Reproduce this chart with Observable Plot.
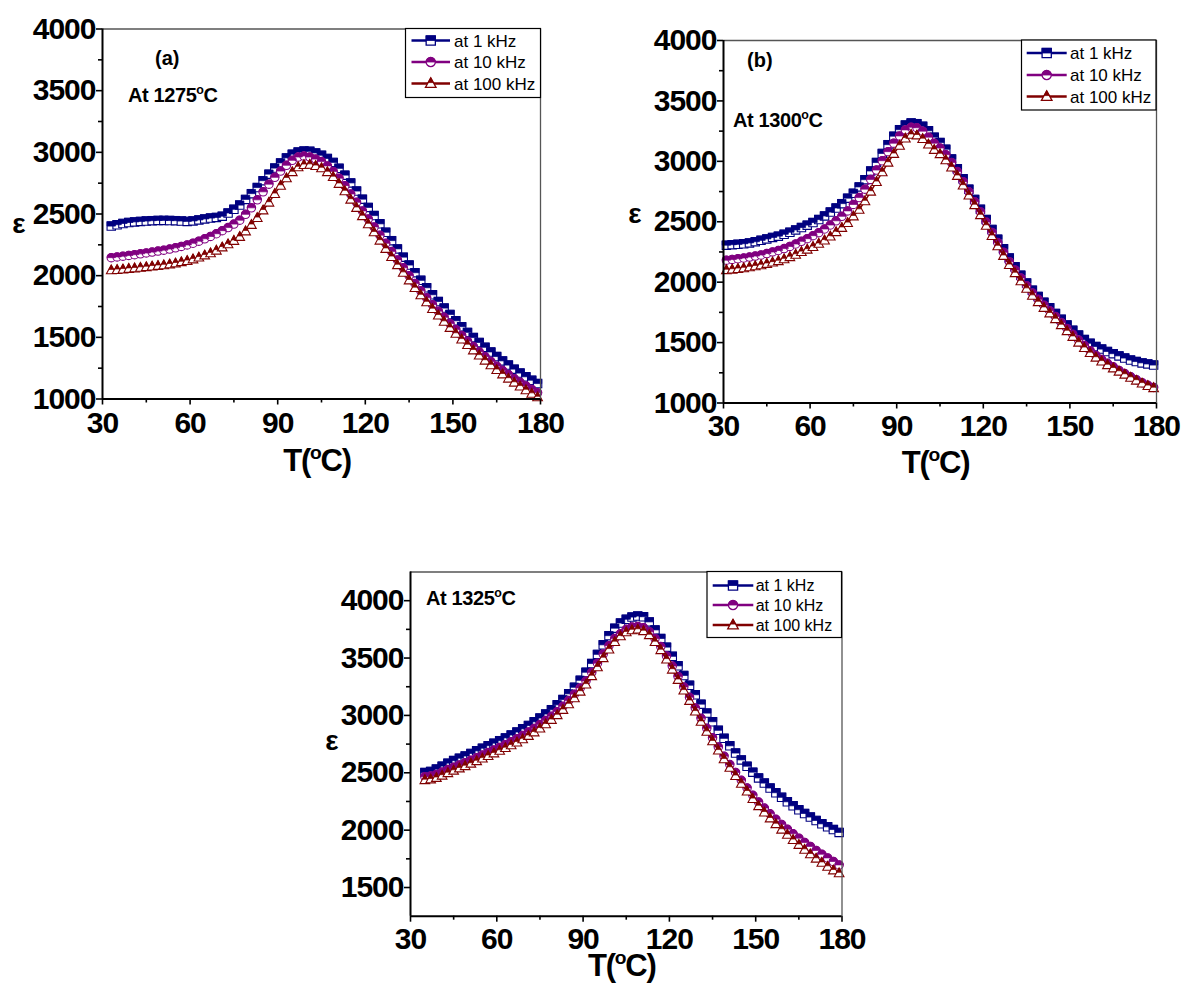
<!DOCTYPE html>
<html>
<head>
<meta charset="utf-8">
<script src="https://cdn.jsdelivr.net/npm/d3@7"></script>
<script src="https://cdn.jsdelivr.net/npm/@observablehq/plot@0.6"></script>
<style>
  body { margin: 0; background: #fff; }
  #fig { position: relative; width: 1182px; height: 990px; background: #fff; }
  #fig svg { position: absolute; overflow: visible; }
</style>
</head>
<body>
<div id="fig"></div>
<script>
// Dielectric constant vs temperature, three sintering temperatures, three frequencies.

const frequencyLabels = ["at 1 kHz", "at 10 kHz", "at 100 kHz"];
const seriesColors = ["#000080", "#800080", "#800000"];
const seriesShapes = ["square", "circle", "triangle"];

const xMajorTicks = [30, 60, 90, 120, 150, 180];
const xMinorTicks = [45, 75, 105, 135, 165];

// (a) sintered at 1275 °C
const tempsA = [33,35,37,39,41,43,45,47,49,51,53,55,57,59,61,63,65,67,69,71,73,75,77,79,81,83,85,87,89,91,93,95,97,99,101,103,105,107,109,111,113,115,117,119,121,123,125,127,129,131,133,135,137,139,141,143,145,147,149,151,153,155,157,159,161,163,165,167,169,171,173,175,177,179];
const eps1kA = [2402,2413,2423,2431,2436,2440,2443,2446,2448,2448,2447,2446,2443,2440,2444,2452,2460,2467,2472,2482,2508,2538,2572,2618,2665,2714,2770,2823,2872,2914,2955,2985,3002,3010,3008,2995,2976,2950,2918,2870,2815,2752,2686,2620,2553,2487,2420,2352,2284,2217,2150,2086,2024,1962,1902,1845,1790,1737,1685,1634,1586,1540,1498,1458,1419,1381,1344,1309,1275,1242,1210,1180,1152,1125];
const eps10kA = [2146,2152,2158,2164,2170,2177,2184,2191,2199,2207,2216,2226,2237,2249,2263,2280,2299,2318,2340,2365,2390,2418,2450,2497,2550,2615,2680,2742,2797,2848,2895,2935,2962,2970,2962,2945,2925,2890,2845,2790,2730,2662,2595,2525,2460,2395,2328,2262,2195,2128,2064,2000,1937,1877,1820,1765,1712,1662,1612,1563,1515,1469,1425,1383,1343,1304,1266,1231,1198,1165,1135,1106,1078,1050];
const eps100kA = [2044,2047,2051,2056,2060,2065,2070,2075,2080,2085,2092,2100,2110,2120,2133,2148,2165,2182,2204,2230,2255,2283,2315,2360,2412,2468,2530,2593,2663,2730,2790,2840,2880,2898,2900,2890,2872,2840,2800,2745,2685,2617,2550,2483,2418,2352,2285,2218,2152,2086,2024,1962,1900,1842,1785,1730,1678,1627,1577,1530,1483,1438,1395,1353,1312,1274,1236,1200,1166,1133,1102,1072,1043,1015];
const yMajorA = [1000, 1500, 2000, 2500, 3000, 3500, 4000];
const yMinorA = [1250, 1750, 2250, 2750, 3250, 3750];

// (b) sintered at 1300 °C
const tempsB = [31,33,35,37,39,41,43,45,47,49,51,53,55,57,59,61,63,65,67,69,71,73,75,77,79,81,83,85,87,89,91,93,95,97,99,101,103,105,107,109,111,113,115,117,119,121,123,125,127,129,131,133,135,137,139,141,143,145,147,149,151,153,155,157,159,161,163,165,167,169,171,173,175,177,179];
const eps1kB = [2306,2310,2313,2318,2325,2335,2346,2358,2370,2381,2396,2413,2432,2452,2472,2493,2518,2548,2580,2614,2650,2695,2735,2788,2848,2920,2990,3065,3138,3208,3262,3300,3318,3312,3290,3253,3200,3155,3100,3020,2939,2855,2770,2685,2603,2518,2436,2356,2277,2200,2127,2058,1993,1934,1882,1834,1788,1741,1693,1646,1602,1562,1525,1494,1467,1446,1426,1408,1390,1372,1355,1343,1332,1323,1314];
const eps10kB = [2182,2188,2194,2200,2208,2216,2225,2237,2250,2262,2278,2296,2316,2338,2360,2385,2410,2440,2473,2508,2545,2590,2643,2700,2770,2850,2928,3005,3080,3150,3210,3260,3282,3278,3250,3200,3150,3110,3055,2990,2915,2832,2748,2665,2582,2497,2412,2328,2247,2170,2101,2034,1970,1911,1858,1810,1764,1716,1666,1616,1568,1521,1476,1433,1394,1360,1328,1299,1270,1244,1218,1193,1168,1146,1129];
const eps100kB = [2100,2104,2110,2116,2124,2132,2141,2152,2163,2175,2190,2208,2228,2250,2270,2292,2318,2346,2378,2415,2450,2490,2545,2600,2670,2750,2830,2910,2990,3062,3130,3190,3220,3215,3185,3140,3095,3060,3010,2950,2880,2800,2718,2638,2555,2468,2383,2298,2218,2143,2075,2008,1946,1888,1835,1788,1742,1695,1645,1595,1548,1500,1456,1414,1376,1344,1314,1287,1260,1235,1210,1186,1162,1141,1124];
const yMajorB = [1000, 1500, 2000, 2500, 3000, 3500, 4000];
const yMinorB = [1250, 1750, 2250, 2750, 3250, 3750];

// (c) sintered at 1325 °C
const tempsC = [35,37,39,41,43,45,47,49,51,53,55,57,59,61,63,65,67,69,71,73,75,77,79,81,83,85,87,89,91,93,95,97,99,101,103,105,107,109,111,113,115,117,119,121,123,125,127,129,131,133,135,137,139,141,143,145,147,149,151,153,155,157,159,161,163,165,167,169,171,173,175,177,179];
const eps1kC = [2502,2512,2532,2558,2584,2606,2627,2646,2668,2691,2714,2736,2758,2780,2804,2829,2855,2883,2912,2944,2977,3012,3050,3092,3138,3188,3245,3306,3376,3452,3532,3615,3695,3760,3805,3838,3857,3866,3860,3815,3745,3670,3595,3515,3432,3348,3263,3180,3098,3020,2945,2870,2800,2735,2672,2612,2557,2505,2455,2410,2367,2326,2286,2247,2212,2178,2145,2114,2084,2055,2029,2005,1980];
const eps10kC = [2466,2472,2486,2506,2528,2548,2568,2588,2609,2631,2654,2676,2698,2721,2745,2770,2797,2825,2855,2887,2920,2955,2992,3033,3079,3130,3185,3240,3300,3375,3455,3535,3608,3670,3712,3750,3770,3776,3765,3730,3670,3600,3518,3430,3340,3248,3158,3065,2975,2888,2805,2725,2645,2572,2503,2435,2368,2304,2245,2192,2142,2095,2050,2008,1968,1930,1893,1858,1823,1790,1758,1727,1697];
const eps100kC = [2437,2443,2456,2476,2498,2519,2539,2559,2580,2602,2625,2647,2670,2693,2716,2740,2765,2793,2822,2853,2887,2923,2962,3003,3049,3098,3150,3208,3270,3343,3420,3500,3575,3640,3690,3725,3743,3748,3735,3700,3640,3570,3488,3400,3310,3218,3127,3035,2945,2858,2775,2695,2618,2545,2473,2405,2338,2272,2210,2155,2103,2053,2005,1960,1915,1872,1830,1790,1752,1716,1682,1650,1625];
const yMajorC = [1500, 2000, 2500, 3000, 3500, 4000];
const yMinorC = [1750, 2250, 2750, 3250, 3750];

const FONT = '"Liberation Sans", Arial, Helvetica, sans-serif';
const MARKER_R = 4.2;

// Half-filled marker shapes: the whole outline and the upper half.
const shapeDrawers = {
  square: {
    whole(ctx, r) { ctx.rect(-r, -r, 2 * r, 2 * r); },
    upper(ctx, r) { ctx.rect(-r, -r, 2 * r, r); }
  },
  circle: {
    whole(ctx, r) { ctx.moveTo(r, 0); ctx.arc(0, 0, r, 0, 2 * Math.PI); },
    upper(ctx, r) { ctx.moveTo(r, 0); ctx.arc(0, 0, r, 0, Math.PI, true); ctx.closePath(); }
  },
  triangle: {
    whole(ctx, r) {
      ctx.moveTo(0, -1.25 * r); ctx.lineTo(1.15 * r, 0.85 * r); ctx.lineTo(-1.15 * r, 0.85 * r); ctx.closePath();
    },
    upper(ctx, r) {
      const m = -0.2 * r;
      ctx.moveTo(0, -1.25 * r); ctx.lineTo(0.575 * r, m); ctx.lineTo(-0.575 * r, m); ctx.closePath();
    }
  }
};
function markerSymbol(shape, part) {
  return { draw(ctx, size) { shapeDrawers[shape][part](ctx, Math.sqrt(size / Math.PI)); } };
}

function degreeLabel(svg, x, y, before, after, size, anchor, spacing) {
  const t = svg.append("text")
    .attr("x", x).attr("y", y)
    .attr("text-anchor", anchor)
    .attr("font-family", FONT)
    .attr("font-size", size)
    .attr("font-weight", "bold")
    .attr("letter-spacing", spacing)
    .attr("fill", "black");
  t.append("tspan").text(before);
  t.append("tspan").attr("font-size", size * 0.62).attr("dy", -size * 0.4).text("o");
  t.append("tspan").attr("dy", size * 0.4).text(after);
}

function drawLegend(svg, lg) {
  const g = svg.append("g").attr("letter-spacing", "0px");
  g.append("rect")
    .attr("x", lg.x).attr("y", lg.y).attr("width", lg.w).attr("height", lg.h)
    .attr("fill", "white").attr("stroke", "black").attr("stroke-width", 1.2);
  frequencyLabels.forEach((label, i) => {
    const ry = lg.y + lg.rows[i];
    const cx = (lg.x0 + lg.x1) / 2;
    g.append("line")
      .attr("x1", lg.x0).attr("x2", lg.x1).attr("y1", ry).attr("y2", ry)
      .attr("stroke", seriesColors[i]).attr("stroke-width", 2.4);
    const size = Math.PI * 4.6 * 4.6;
    g.append("path")
      .attr("transform", `translate(${cx},${ry})`)
      .attr("d", d3.symbol(markerSymbol(seriesShapes[i], "whole"), size)())
      .attr("fill", "white").attr("stroke", seriesColors[i]).attr("stroke-width", 1.3);
    g.append("path")
      .attr("transform", `translate(${cx},${ry})`)
      .attr("d", d3.symbol(markerSymbol(seriesShapes[i], "upper"), size)())
      .attr("fill", seriesColors[i]).attr("stroke", seriesColors[i]).attr("stroke-width", 0.8);
    g.append("text")
      .attr("x", lg.textX).attr("y", ry).attr("dy", "0.36em")
      .attr("text-anchor", "start")
      .attr("letter-spacing", "0px")
      .attr("font-family", FONT).attr("font-size", lg.fontSize).attr("font-weight", "normal")
      .attr("fill", "black")
      .text(label);
  });
}

function panel(cfg) {
  const marks = [];
  cfg.series.forEach((vals, i) => {
    const rows = cfg.temps.map((t, j) => ({ T: t, eps: vals[j] }));
    marks.push(Plot.line(rows, { x: "T", y: "eps", stroke: seriesColors[i], strokeWidth: 1.5 }));
    marks.push(Plot.dot(rows, {
      x: "T", y: "eps", r: MARKER_R, symbol: markerSymbol(seriesShapes[i], "whole"),
      fill: "white", stroke: seriesColors[i], strokeWidth: 1.1
    }));
    marks.push(Plot.dot(rows, {
      x: "T", y: "eps", r: MARKER_R, symbol: markerSymbol(seriesShapes[i], "upper"),
      fill: seriesColors[i], stroke: seriesColors[i], strokeWidth: 0.7
    }));
  });
  const [y0, y1] = cfg.yDomain;
  marks.push(
    Plot.ruleY([y1], { stroke: "#555", strokeWidth: 1.3 }),
    Plot.ruleX([180], { stroke: "#555", strokeWidth: 1.3 }),
    Plot.ruleX([30], { stroke: "black", strokeWidth: 2 }),
    Plot.ruleY([y0], { stroke: "black", strokeWidth: 2 }),
    Plot.axisY({ ticks: cfg.yMajor, anchor: "left", tickSize: 6, tickPadding: 1, strokeWidth: 1.6, label: null, tickFormat: d => String(d) }),
    Plot.axisY({ ticks: cfg.yMinor, anchor: "left", tickSize: 4, strokeWidth: 1.6, label: null, tickFormat: () => "" }),
    Plot.axisX({ ticks: xMajorTicks, anchor: "bottom", tickSize: 6, tickPadding: cfg.xPad, strokeWidth: 1.6, label: null, tickFormat: d => String(d) }),
    Plot.axisX({ ticks: xMinorTicks, anchor: "bottom", tickSize: 4, strokeWidth: 1.6, label: null, tickFormat: () => "" })
  );

  const chart = Plot.plot({
    width: cfg.width,
    height: cfg.height,
    marginLeft: cfg.m[0],
    marginRight: cfg.m[1],
    marginTop: cfg.m[2],
    marginBottom: cfg.m[3],
    x: { domain: [30, 180], axis: null },
    y: { domain: cfg.yDomain, axis: null },
    style: {
      fontFamily: FONT,
      fontSize: "30px",
      fontWeight: "bold",
      letterSpacing: "-1px",
      color: "black",
      background: "transparent",
      overflow: "visible"
    },
    marks
  });
  chart.style.left = cfg.left + "px";
  chart.style.top = cfg.top + "px";
  document.getElementById("fig").appendChild(chart);

  const svg = d3.select(chart);
  const xr = chart.scale("x").range;
  const xc = (xr[0] + xr[1]) / 2;
  degreeLabel(svg, xc - 4, cfg.xLabelY, "T(", "C)", 31, "middle", "-1.2px");
  svg.append("text")
    .attr("x", cfg.epsPos[0]).attr("y", cfg.epsPos[1])
    .attr("text-anchor", "middle")
    .attr("font-family", FONT).attr("font-size", 28).attr("font-weight", "bold")
    .attr("letter-spacing", "0px")
    .text("ε");
  if (cfg.letter) {
    svg.append("text")
      .attr("x", cfg.letter.x).attr("y", cfg.letter.y)
      .attr("text-anchor", "start")
      .attr("font-family", FONT).attr("font-size", 20).attr("font-weight", "bold")
      .attr("letter-spacing", "0px")
      .text(cfg.letter.text);
  }
  degreeLabel(svg, cfg.note.x, cfg.note.y, cfg.note.text, "C", 20, "start", "-0.4px");
  drawLegend(svg, cfg.legend);
}

panel({
  temps: tempsA, series: [eps1kA, eps10kA, eps100kA],
  yDomain: [1000, 4000], yMajor: yMajorA, yMinor: yMinorA,
  left: 0, top: 0, width: 590, height: 490, m: [102, 50, 28.5, 91.5], xPad: 7,
  xLabelY: 471, epsPos: [19, 233],
  letter: { x: 155, y: 64.5, text: "(a)" },
  note: { x: 128, y: 101.5, text: "At 1275" },
  legend: { x: 405.5, y: 28.5, w: 135, h: 69, rows: [12, 33.5, 55], x0: 411.5, x1: 450, textX: 454, fontSize: 17 }
});

panel({
  temps: tempsB, series: [eps1kB, eps10kB, eps100kB],
  yDomain: [1000, 4000], yMajor: yMajorB, yMinor: yMinorB,
  left: 591, top: 0, width: 591, height: 490, m: [132, 26, 40, 87.5], xPad: 6,
  xLabelY: 473, epsPos: [44, 223],
  letter: { x: 156, y: 67, text: "(b)" },
  note: { x: 142, y: 126.5, text: "At 1300" },
  legend: { x: 430.5, y: 40, w: 134.5, h: 70, rows: [13, 35, 56.5], x0: 435.7, x1: 475.7, textX: 479, fontSize: 17 }
});

panel({
  temps: tempsC, series: [eps1kC, eps10kC, eps100kC],
  yDomain: [1250, 4250], yMajor: yMajorC, yMinor: yMinorC,
  left: 300, top: 540, width: 590, height: 450, m: [110, 48.5, 31.5, 74.3], xPad: 5,
  xLabelY: 436, epsPos: [32, 210],
  letter: null,
  note: { x: 126, y: 65, text: "At 1325" },
  legend: { x: 407, y: 31.5, w: 134.5, h: 66, rows: [14, 33.5, 53.5], x0: 412.7, x1: 453.3, textX: 455.7, fontSize: 16 }
});
</script>
</body>
</html>
